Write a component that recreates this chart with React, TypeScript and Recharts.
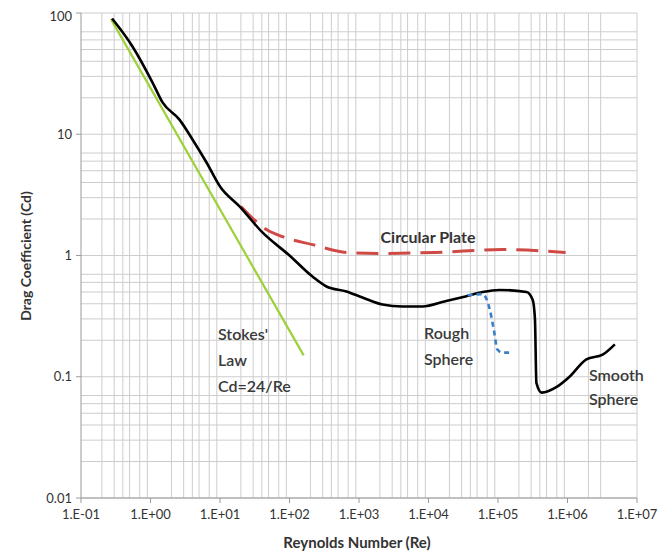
import React from 'react';
import { LineChart, Line, XAxis, YAxis, CartesianGrid } from 'recharts';

const xTicks = [0.1, 1, 10, 100, 1e3, 1e4, 1e5, 1e6, 1e7];
const xTickLabels = ['1.E-01', '1.E+00', '1.E+01', '1.E+02', '1.E+03', '1.E+04', '1.E+05', '1.E+06', '1.E+07'];
const yTicks = [0.01, 0.1, 1, 10, 100];
const yTickLabels = ['0.01', '0.1', '1', '10', '100'];

const smoothRe = [0.28, 0.55, 1.07, 1.49, 2.61, 4.02, 6.4, 10, 19.1, 40.8, 100, 214, 340, 660, 1120, 2180, 4200, 8200, 17500, 34000, 60000, 105000, 257000, 316000, 340000, 357000, 424000, 690000, 1.07e6, 1.87e6, 3.2e6, 4.8e6];
const smoothCd = [90, 53, 26.7, 18.3, 13.2, 9.06, 5.85, 3.71, 2.54, 1.55, 1.0, 0.67, 0.555, 0.505, 0.45, 0.394, 0.38, 0.38, 0.42, 0.46, 0.5, 0.52, 0.5, 0.43, 0.3, 0.089, 0.074, 0.082, 0.1, 0.139, 0.152, 0.185];

const plateRe = [20, 46.5, 79, 214, 660, 1970, 12600, 116000, 940000];
const plateCd = [2.54, 1.64, 1.43, 1.23, 1.06, 1.04, 1.06, 1.12, 1.06];

const roughRe = [36500, 60000, 76000, 87000, 98000, 116000, 160000];
const roughCd = [0.47, 0.48, 0.36, 0.245, 0.168, 0.158, 0.158];

const stokesRe = [0.27, 160];
const stokesCd = [89, 0.15];

const toRows = (xs: number[], ys: number[]) => xs.map((x, i) => ({ x, y: ys[i] }));
const smooth = toRows(smoothRe, smoothCd);
const plate = toRows(plateRe, plateCd);
const rough = toRows(roughRe, roughCd);
const stokes = toRows(stokesRe, stokesCd);

const minorX: number[] = [];
for (let i = 0; i < xTicks.length - 1; i++) for (let k = 1; k <= 9; k++) minorX.push(xTicks[i] * k);
minorX.push(1e7);
const minorY: number[] = [];
for (let i = 0; i < yTicks.length - 1; i++) for (let k = 1; k <= 9; k++) minorY.push(yTicks[i] * k);
minorY.push(100);

const FONT = 'Lato, "Open Sans", sans-serif';
const W = 656;
const H = 548;

export default function App() {
  return (
    <div style={{ position: 'relative', width: W, height: H, fontFamily: FONT }}>
      <LineChart width={W} height={H} margin={{ top: 5, right: 27, left: 0, bottom: 8 }}>
        <CartesianGrid stroke="#cdcdcd" strokeWidth={1} verticalValues={minorX} horizontalValues={minorY} />
        <XAxis
          dataKey="x"
          type="number"
          scale="log"
          domain={[0.1, 1e7]}
          ticks={xTicks}
          allowDataOverflow
          height={50}
          tickSize={5}
          tickMargin={7}
          stroke="#9a9a9a"
          tick={{ fill: '#333', fontSize: 13, fontFamily: FONT }}
          tickFormatter={(v: number) => xTickLabels[xTicks.indexOf(v)] ?? ''}
        />
        <YAxis
          dataKey="y"
          type="number"
          scale="log"
          domain={[0.01, 100]}
          ticks={yTicks}
          allowDataOverflow
          width={73}
          tickSize={5}
          tickMargin={4}
          stroke="#9a9a9a"
          tick={{ fill: '#333', fontSize: 13, fontFamily: FONT }}
          tickFormatter={(v: number) => yTickLabels[yTicks.indexOf(v)] ?? ''}
        />
        <Line data={stokes} dataKey="y" type="linear" stroke="#9dd13a" strokeWidth={2.2} dot={false} isAnimationActive={false} />
        <Line data={plate} dataKey="y" type="monotone" stroke="#cf4a45" strokeWidth={3} strokeDasharray="22 10" dot={false} isAnimationActive={false} />
        <Line data={smooth} dataKey="y" type="monotone" stroke="#000" strokeWidth={2.6} dot={false} isAnimationActive={false} />
        <Line data={rough} dataKey="y" type="monotone" stroke="#3a80c9" strokeWidth={2.6} strokeDasharray="5 4" dot={false} isAnimationActive={false} />
      </LineChart>
      <svg width={W} height={H} style={{ position: 'absolute', left: 0, top: 0, pointerEvents: 'none' }}>
        <g fontFamily={FONT} fill="#333">
          <text x={349} y={534} textAnchor="middle" dominantBaseline="central" fontSize={15} fontWeight="bold">Reynolds Number (Re)</text>
          <text x={17} y={248} textAnchor="middle" dominantBaseline="central" fontSize={14} fontWeight="bold" transform="rotate(-90 17 248)">Drag Coefficient (Cd)</text>
          <text x={420} y={228} textAnchor="middle" dominantBaseline="central" fontSize={16} fontWeight="bold">Circular Plate</text>
          <g fontSize={16} fontWeight={600} fill="#3a3a3a">
            <text x={210} y={325} dominantBaseline="central">Stokes'</text>
            <text x={210} y={351} dominantBaseline="central">Law</text>
            <text x={210} y={377} dominantBaseline="central">Cd=24/Re</text>
            <text x={416} y={324} dominantBaseline="central">Rough</text>
            <text x={416} y={350} dominantBaseline="central">Sphere</text>
            <text x={581} y={366} dominantBaseline="central">Smooth</text>
            <text x={581} y={390} dominantBaseline="central">Sphere</text>
          </g>
        </g>
      </svg>
    </div>
  );
}
